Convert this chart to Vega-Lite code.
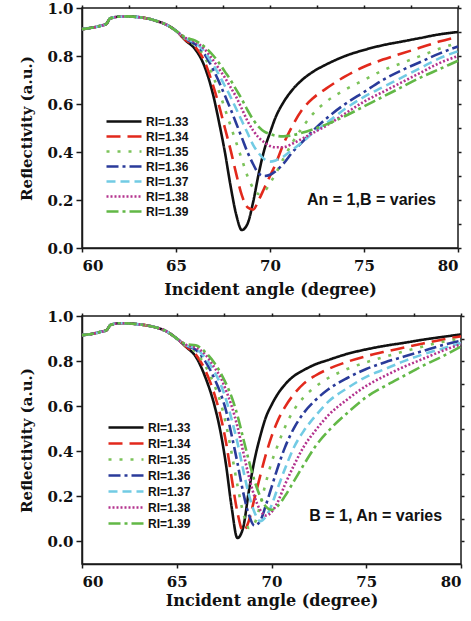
{
"$schema": "https://vega.github.io/schema/vega-lite/v6.json",
"padding": {"left": 19, "top": 0, "right": 4, "bottom": 2},
"bounds": "flush",
"spacing": 68,
"background": "white",
"config": {
 "view": {"stroke": "#1a1a1a", "strokeWidth": 1.5},
 "axis": {"labelFont": "DejaVu Serif", "labelFontWeight": "bold", "labelFontSize": 15, "labelColor": "#111", "titleFont": "DejaVu Serif", "titleFontWeight": "bold", "titleFontSize": 16, "titleColor": "#111", "domainColor": "#1a1a1a", "domainWidth": 1.5, "tickColor": "#1a1a1a", "tickWidth": 1.5, "grid": false},
 "legend": {"symbolType": "M-1,0H4", "symbolSize": 196, "symbolStrokeWidth": 2.6, "labelFont": "Liberation Sans, Arial, sans-serif", "labelFontWeight": "bold", "labelFontSize": 12, "labelColor": "#111", "labelOffset": 24, "padding": 0, "rowPadding": 0}
},
"datasets": {
 "top": [
  {"ang":60,"a33":0.912,"a34":0.912,"a35":0.912,"a36":0.912,"a37":0.912,"a38":0.912,"a39":0.912},
  {"ang":60.5,"a33":0.918,"a34":0.918,"a35":0.918,"a36":0.918,"a37":0.918,"a38":0.918,"a39":0.918},
  {"ang":61,"a33":0.926,"a34":0.926,"a35":0.926,"a36":0.926,"a37":0.926,"a38":0.926,"a39":0.926},
  {"ang":61.3,"a33":0.934,"a34":0.934,"a35":0.934,"a36":0.934,"a37":0.934,"a38":0.934,"a39":0.934},
  {"ang":61.5,"a33":0.957,"a34":0.957,"a35":0.957,"a36":0.957,"a37":0.957,"a38":0.957,"a39":0.957},
  {"ang":62,"a33":0.964,"a34":0.964,"a35":0.964,"a36":0.964,"a37":0.964,"a38":0.964,"a39":0.964},
  {"ang":62.5,"a33":0.965,"a34":0.965,"a35":0.965,"a36":0.965,"a37":0.965,"a38":0.965,"a39":0.965},
  {"ang":63,"a33":0.962,"a34":0.962,"a35":0.962,"a36":0.962,"a37":0.962,"a38":0.962,"a39":0.962},
  {"ang":63.5,"a33":0.956,"a34":0.956,"a35":0.956,"a36":0.956,"a37":0.956,"a38":0.956,"a39":0.956},
  {"ang":64,"a33":0.945,"a34":0.945,"a35":0.945,"a36":0.945,"a37":0.945,"a38":0.945,"a39":0.945},
  {"ang":64.5,"a33":0.93,"a34":0.93,"a35":0.93,"a36":0.93,"a37":0.93,"a38":0.93,"a39":0.93},
  {"ang":65,"a33":0.905,"a34":0.905,"a35":0.905,"a36":0.905,"a37":0.905,"a38":0.905,"a39":0.905},
  {"ang":65.5,"a33":0.865,"a34":0.867,"a35":0.87,"a36":0.872,"a37":0.874,"a38":0.876,"a39":0.878},
  {"ang":66,"a33":0.83,"a34":0.84,"a35":0.845,"a36":0.85,"a37":0.855,"a38":0.86,"a39":0.865},
  {"ang":66.5,"a33":0.76,"a34":0.78,"a35":0.8,"a36":0.81,"a37":0.82,"a38":0.83,"a39":0.84},
  {"ang":67,"a33":0.63,"a34":0.67,"a35":0.71,"a36":0.74,"a37":0.76,"a38":0.78,"a39":0.8},
  {"ang":67.3,"a33":0.52,"a34":0.59,"a35":0.65,"a36":0.69,"a37":0.72,"a38":0.745,"a39":0.77},
  {"ang":67.6,"a33":0.4,"a34":0.5,"a35":0.58,"a36":0.635,"a37":0.675,"a38":0.71,"a39":0.735},
  {"ang":67.9,"a33":0.26,"a34":0.41,"a35":0.51,"a36":0.58,"a37":0.63,"a38":0.67,"a39":0.7},
  {"ang":68.2,"a33":0.14,"a34":0.31,"a35":0.44,"a36":0.52,"a37":0.58,"a38":0.63,"a39":0.66},
  {"ang":68.5,"a33":0.075,"a34":0.22,"a35":0.37,"a36":0.46,"a37":0.53,"a38":0.58,"a39":0.62},
  {"ang":68.8,"a33":0.1,"a34":0.17,"a35":0.3,"a36":0.4,"a37":0.48,"a38":0.53,"a39":0.575},
  {"ang":69.1,"a33":0.19,"a34":0.16,"a35":0.25,"a36":0.35,"a37":0.43,"a38":0.49,"a39":0.535},
  {"ang":69.4,"a33":0.31,"a34":0.2,"a35":0.225,"a36":0.31,"a37":0.395,"a38":0.46,"a39":0.505},
  {"ang":69.7,"a33":0.41,"a34":0.25,"a35":0.235,"a36":0.3,"a37":0.37,"a38":0.44,"a39":0.485},
  {"ang":70,"a33":0.48,"a34":0.3,"a35":0.27,"a36":0.305,"a37":0.36,"a38":0.425,"a39":0.475},
  {"ang":70.3,"a33":0.545,"a34":0.35,"a35":0.31,"a36":0.32,"a37":0.365,"a38":0.42,"a39":0.468},
  {"ang":70.7,"a33":0.605,"a34":0.43,"a35":0.37,"a36":0.35,"a37":0.38,"a38":0.42,"a39":0.465},
  {"ang":71.2,"a33":0.66,"a34":0.51,"a35":0.44,"a36":0.4,"a37":0.41,"a38":0.435,"a39":0.47},
  {"ang":71.7,"a33":0.7,"a34":0.575,"a35":0.5,"a36":0.44,"a37":0.44,"a38":0.455,"a39":0.48},
  {"ang":72.3,"a33":0.735,"a34":0.625,"a35":0.56,"a36":0.49,"a37":0.48,"a38":0.48,"a39":0.495},
  {"ang":73,"a33":0.765,"a34":0.665,"a35":0.61,"a36":0.54,"a37":0.52,"a38":0.51,"a39":0.515},
  {"ang":74,"a33":0.8,"a34":0.715,"a35":0.66,"a36":0.6,"a37":0.58,"a38":0.56,"a39":0.55},
  {"ang":75,"a33":0.825,"a34":0.755,"a35":0.7,"a36":0.65,"a37":0.63,"a38":0.61,"a39":0.59},
  {"ang":76,"a33":0.845,"a34":0.785,"a35":0.74,"a36":0.7,"a37":0.67,"a38":0.65,"a39":0.63},
  {"ang":77,"a33":0.86,"a34":0.81,"a35":0.77,"a36":0.74,"a37":0.71,"a38":0.69,"a39":0.67},
  {"ang":78,"a33":0.875,"a34":0.835,"a35":0.8,"a36":0.775,"a37":0.75,"a38":0.73,"a39":0.71},
  {"ang":79,"a33":0.89,"a34":0.86,"a35":0.83,"a36":0.81,"a37":0.79,"a38":0.77,"a39":0.745},
  {"ang":80,"a33":0.9,"a34":0.88,"a35":0.855,"a36":0.84,"a37":0.82,"a38":0.8,"a39":0.78}
 ],
 "bot": [
  {"ang":60,"a33":0.915,"a34":0.915,"a35":0.915,"a36":0.915,"a37":0.915,"a38":0.915,"a39":0.915},
  {"ang":60.5,"a33":0.92,"a34":0.92,"a35":0.92,"a36":0.92,"a37":0.92,"a38":0.92,"a39":0.92},
  {"ang":61,"a33":0.93,"a34":0.93,"a35":0.93,"a36":0.93,"a37":0.93,"a38":0.93,"a39":0.93},
  {"ang":61.3,"a33":0.937,"a34":0.937,"a35":0.937,"a36":0.937,"a37":0.937,"a38":0.937,"a39":0.937},
  {"ang":61.5,"a33":0.96,"a34":0.96,"a35":0.96,"a36":0.96,"a37":0.96,"a38":0.96,"a39":0.96},
  {"ang":62,"a33":0.968,"a34":0.968,"a35":0.968,"a36":0.968,"a37":0.968,"a38":0.968,"a39":0.968},
  {"ang":62.5,"a33":0.967,"a34":0.967,"a35":0.967,"a36":0.967,"a37":0.967,"a38":0.967,"a39":0.967},
  {"ang":63,"a33":0.963,"a34":0.963,"a35":0.963,"a36":0.963,"a37":0.963,"a38":0.963,"a39":0.963},
  {"ang":63.5,"a33":0.957,"a34":0.957,"a35":0.957,"a36":0.957,"a37":0.957,"a38":0.957,"a39":0.957},
  {"ang":64,"a33":0.947,"a34":0.947,"a35":0.947,"a36":0.947,"a37":0.947,"a38":0.947,"a39":0.947},
  {"ang":64.5,"a33":0.93,"a34":0.93,"a35":0.93,"a36":0.93,"a37":0.93,"a38":0.93,"a39":0.93},
  {"ang":65,"a33":0.9,"a34":0.9,"a35":0.9,"a36":0.9,"a37":0.9,"a38":0.9,"a39":0.9},
  {"ang":65.5,"a33":0.862,"a34":0.864,"a35":0.866,"a36":0.868,"a37":0.87,"a38":0.872,"a39":0.875},
  {"ang":66,"a33":0.82,"a34":0.83,"a35":0.84,"a36":0.85,"a37":0.855,"a38":0.86,"a39":0.87},
  {"ang":66.5,"a33":0.73,"a34":0.76,"a35":0.78,"a36":0.8,"a37":0.815,"a38":0.83,"a39":0.84},
  {"ang":67,"a33":0.6,"a34":0.65,"a35":0.69,"a36":0.72,"a37":0.75,"a38":0.77,"a39":0.79},
  {"ang":67.3,"a33":0.49,"a34":0.56,"a35":0.62,"a36":0.66,"a37":0.7,"a38":0.73,"a39":0.75},
  {"ang":67.6,"a33":0.34,"a34":0.44,"a35":0.52,"a36":0.58,"a37":0.63,"a38":0.67,"a39":0.7},
  {"ang":67.9,"a33":0.15,"a34":0.28,"a35":0.39,"a36":0.47,"a37":0.54,"a38":0.6,"a39":0.64},
  {"ang":68.2,"a33":0.015,"a34":0.13,"a35":0.25,"a36":0.35,"a37":0.44,"a38":0.51,"a39":0.56},
  {"ang":68.5,"a33":0.06,"a34":0.045,"a35":0.13,"a36":0.22,"a37":0.32,"a38":0.4,"a39":0.46},
  {"ang":68.8,"a33":0.22,"a34":0.09,"a35":0.06,"a36":0.12,"a37":0.21,"a38":0.29,"a39":0.36},
  {"ang":69.1,"a33":0.36,"a34":0.19,"a35":0.08,"a36":0.07,"a37":0.13,"a38":0.2,"a39":0.27},
  {"ang":69.4,"a33":0.465,"a34":0.29,"a35":0.16,"a36":0.09,"a37":0.09,"a38":0.14,"a39":0.2},
  {"ang":69.7,"a33":0.55,"a34":0.385,"a35":0.26,"a36":0.16,"a37":0.11,"a38":0.115,"a39":0.155},
  {"ang":70,"a33":0.605,"a34":0.465,"a35":0.35,"a36":0.24,"a37":0.16,"a38":0.13,"a39":0.14},
  {"ang":70.3,"a33":0.65,"a34":0.53,"a35":0.42,"a36":0.32,"a37":0.23,"a38":0.17,"a39":0.155},
  {"ang":70.7,"a33":0.695,"a34":0.595,"a35":0.505,"a36":0.415,"a37":0.32,"a38":0.25,"a39":0.2},
  {"ang":71.2,"a33":0.735,"a34":0.655,"a35":0.585,"a36":0.505,"a37":0.42,"a38":0.34,"a39":0.27},
  {"ang":71.7,"a33":0.76,"a34":0.7,"a35":0.64,"a36":0.57,"a37":0.49,"a38":0.42,"a39":0.34},
  {"ang":72.3,"a33":0.785,"a34":0.735,"a35":0.685,"a36":0.625,"a37":0.555,"a38":0.49,"a39":0.42},
  {"ang":73,"a33":0.805,"a34":0.765,"a35":0.725,"a36":0.675,"a37":0.62,"a38":0.56,"a39":0.49},
  {"ang":74,"a33":0.832,"a34":0.797,"a35":0.765,"a36":0.725,"a37":0.68,"a38":0.63,"a39":0.57},
  {"ang":75,"a33":0.852,"a34":0.822,"a35":0.795,"a36":0.765,"a37":0.73,"a38":0.69,"a39":0.64},
  {"ang":76,"a33":0.868,"a34":0.842,"a35":0.82,"a36":0.795,"a37":0.765,"a38":0.735,"a39":0.69},
  {"ang":77,"a33":0.881,"a34":0.86,"a35":0.843,"a36":0.82,"a37":0.8,"a38":0.775,"a39":0.735},
  {"ang":78,"a33":0.895,"a34":0.878,"a35":0.865,"a36":0.845,"a37":0.83,"a38":0.81,"a39":0.78},
  {"ang":79,"a33":0.907,"a34":0.895,"a35":0.885,"a36":0.87,"a37":0.855,"a38":0.845,"a39":0.82},
  {"ang":80,"a33":0.918,"a34":0.91,"a35":0.9,"a36":0.89,"a37":0.88,"a38":0.875,"a39":0.865}
 ],
 "noteTop": [{"ang": 75.4, "r": 0.2, "t": "An = 1,B = varies"}],
 "noteBot": [{"ang": 75.5, "r": 0.115, "t": "B = 1, An = varies"}]
},
"vconcat": [
 {
  "width": 376, "height": 240,
  "layer": [
   {
    "data": {"name": "top"},
    "transform": [{"fold": ["a33","a34","a35","a36","a37","a38","a39"], "as": ["s","r"]}],
    "mark": {"type": "line", "strokeWidth": 2.6, "interpolate": "monotone"},
    "encoding": {
     "x": {"field": "ang", "type": "quantitative", "scale": {"domain": [60, 80], "nice": false}, "axis": {"orient": "bottom", "values": [60,65,70,75,80], "title": "Incident angle (degree)", "tickSize": 4, "labelPadding": 6, "titlePadding": 8}},
     "y": {"field": "r", "type": "quantitative", "scale": {"domain": [0, 1], "nice": false}, "axis": {"orient": "left", "values": [0,0.2,0.4,0.6,0.8,1.0], "format": ".1f", "title": "Reflectivity (a.u.)", "titleFontSize": 15, "tickSize": 6, "labelPadding": 3, "titlePadding": 12}},
     "color": {"field": "s", "type": "nominal", "scale": {"domain": ["a33","a34","a35","a36","a37","a38","a39"], "range": ["#111111","#e2291c","#7cc35a","#2a3b9a","#72cbe4","#b4338e","#62b846"]}, "legend": {"title": null, "orient": "none", "legendX": 23, "legendY": 105, "labelExpr": "'RI=1.' + substring(datum.label, 1)"}},
     "strokeDash": {"field": "s", "type": "nominal", "scale": {"domain": ["a33","a34","a35","a36","a37","a38","a39"], "range": [[1,0],[14,7],[3,8],[12,4,3,4],[9,5],[2,2],[12,4,3,4]]}, "legend": {"title": null, "orient": "none", "legendX": 23, "legendY": 105, "labelExpr": "'RI=1.' + substring(datum.label, 1)"}}
    }
   },
   {
    "data": {"name": "noteTop"},
    "mark": {"type": "text", "font": "Liberation Sans, Arial, sans-serif", "fontWeight": "bold", "fontSize": 16, "color": "#111"},
    "encoding": {
     "x": {"field": "ang", "type": "quantitative", "axis": {"orient": "top", "labels": false, "title": null, "values": [60,62.5,65,67.5,70,72.5,75,77.5,80], "tickSize": 3, "domain": false}},
     "y": {"field": "r", "type": "quantitative", "axis": {"orient": "right", "labels": false, "title": null, "values": [0,0.1,0.2,0.3,0.4,0.5,0.6,0.7,0.8,0.9,1.0], "tickSize": 3, "domain": false}},
     "text": {"field": "t"}
    }
   }
  ],
  "resolve": {"axis": {"x": "independent", "y": "independent"}}
 },
 {
  "width": 379, "height": 248,
  "layer": [
   {
    "data": {"name": "bot"},
    "transform": [{"fold": ["a33","a34","a35","a36","a37","a38","a39"], "as": ["s","r"]}],
    "mark": {"type": "line", "strokeWidth": 2.6, "interpolate": "monotone"},
    "encoding": {
     "x": {"field": "ang", "type": "quantitative", "scale": {"domain": [60, 80], "nice": false}, "axis": {"orient": "bottom", "values": [60,65,70,75,80], "title": "Incident angle (degree)", "tickSize": 4, "labelPadding": 6, "titlePadding": 3}},
     "y": {"field": "r", "type": "quantitative", "scale": {"domain": [-0.1, 1], "nice": false}, "axis": {"orient": "left", "values": [0,0.2,0.4,0.6,0.8,1.0], "format": ".1f", "title": "Reflectivity (a.u.)", "titleFontSize": 15, "tickSize": 6, "labelPadding": 3, "titlePadding": 12}},
     "color": {"field": "s", "type": "nominal", "scale": {"domain": ["a33","a34","a35","a36","a37","a38","a39"], "range": ["#111111","#e2291c","#7cc35a","#2a3b9a","#72cbe4","#b4338e","#62b846"]}, "legend": {"title": null, "orient": "none", "legendX": 25, "legendY": 103, "rowPadding": 1, "labelExpr": "'RI=1.' + substring(datum.label, 1)"}},
     "strokeDash": {"field": "s", "type": "nominal", "scale": {"domain": ["a33","a34","a35","a36","a37","a38","a39"], "range": [[1,0],[14,7],[3,8],[12,4,3,4],[9,5],[2,2],[12,4,3,4]]}, "legend": {"title": null, "orient": "none", "legendX": 25, "legendY": 103, "rowPadding": 1, "labelExpr": "'RI=1.' + substring(datum.label, 1)"}}
    }
   },
   {
    "data": {"name": "noteBot"},
    "mark": {"type": "text", "font": "Liberation Sans, Arial, sans-serif", "fontWeight": "bold", "fontSize": 16, "color": "#111"},
    "encoding": {
     "x": {"field": "ang", "type": "quantitative", "axis": {"orient": "top", "labels": false, "title": null, "values": [60,62.5,65,67.5,70,72.5,75,77.5,80], "tickSize": 3, "domain": false}},
     "y": {"field": "r", "type": "quantitative", "axis": {"orient": "right", "labels": false, "title": null, "values": [0,0.1,0.2,0.3,0.4,0.5,0.6,0.7,0.8,0.9,1.0], "tickSize": 3, "domain": false}},
     "text": {"field": "t"}
    }
   }
  ],
  "resolve": {"axis": {"x": "independent", "y": "independent"}}
 }
],
"resolve": {"scale": {"color": "independent", "strokeDash": "independent", "x": "independent", "y": "independent"}, "legend": {"color": "independent", "strokeDash": "independent"}}
}
